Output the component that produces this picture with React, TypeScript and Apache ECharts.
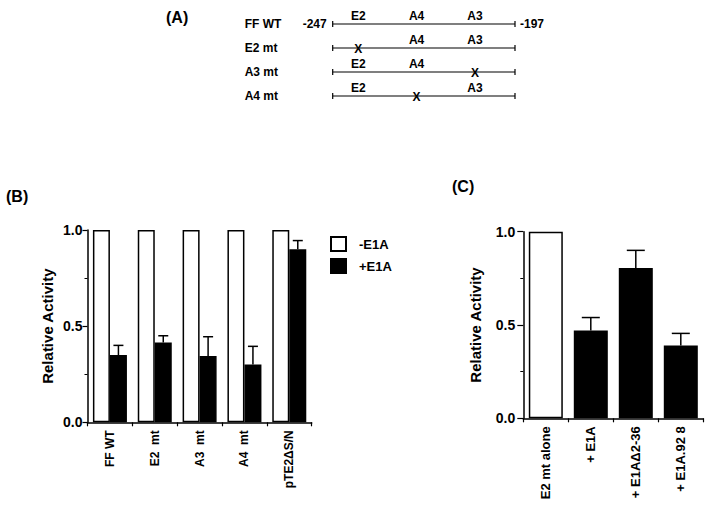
import React, { useEffect, useRef } from "react";
import * as echarts from "echarts";

// ---- Panel A (schematic) ----
const aRows = ["FF WT", "E2 mt", "A3 mt", "A4 mt"];
const aStart = -247;
const aEnd = -197;
const aSiteNames = ["E2", "A4", "A3"];
const aSitePos = [-240, -224, -208];
const aMutatedSite = [null, "E2", "A3", "A4"];

// ---- Panel B ----
const bCategories = ["FF WT", "E2  mt", "A3  mt", "A4  mt", "pTE2\u0394S/N"];
const bMinusE1A = [1, 1, 1, 1, 1];
const bPlusE1A = [0.35, 0.415, 0.345, 0.3, 0.9];
const bPlusE1AErrTop = [0.4, 0.45, 0.445, 0.395, 0.945];

// ---- Panel C ----
const cCategories = ["E2 mt alone", "+ E1A", "+ E1A\u03942-36", "+ E1A.92 8"];
const cValues = [1.0, 0.47, 0.805, 0.39];
const cErrTop = [null, 0.54, 0.9, 0.455];

const FONT = "Liberation Sans, Arial, Helvetica, sans-serif";

export default function App() {
  const ref = useRef<HTMLDivElement>(null);
  useEffect(() => {
    if (!ref.current) return;
    const chart = echarts.init(ref.current, null, { renderer: "svg" });

    const bold = (size: number) => ({
      fontFamily: FONT,
      fontWeight: "bold" as const,
      fontSize: size,
      color: "#000",
    });

    const valueAxis = (gridIndex: number, nameGap: number, labelMargin: number, tickLen: number) => ({
      type: "value" as const,
      gridIndex,
      min: 0,
      max: 1,
      interval: 0.5,
      name: "Relative Activity",
      nameLocation: "middle" as const,
      nameGap,
      nameTextStyle: bold(15),
      axisLine: { show: true, lineStyle: { color: "#000", width: 1.5 } },
      axisTick: { show: true, length: tickLen, lineStyle: { color: "#000", width: 1.2 } },
      minorTick: { show: true, splitNumber: 2, length: 3, lineStyle: { color: "#000", width: 1 } },
      splitLine: { show: false },
      axisLabel: {
        ...bold(14),
        margin: labelMargin,
        formatter: (v: number) => v.toFixed(1),
      },
    });

    const catAxis = (gridIndex: number, data: string[], fontSize: number) => ({
      type: "category" as const,
      gridIndex,
      data,
      axisLine: { show: true, lineStyle: { color: "#000", width: 1.5 } },
      axisTick: { show: true, length: 4, lineStyle: { color: "#000", width: 1.2 } },
      axisLabel: { ...bold(fontSize), rotate: 90, margin: 8 },
    });

    const errRender = (barOffset: number, cap: number) => (params: any, api: any) => {
      const top = api.value(2);
      if (top === null || top === undefined || isNaN(top)) return null;
      const base = api.coord([api.value(0), api.value(1)]);
      const tip = api.coord([api.value(0), top]);
      const x = base[0] + barOffset;
      const style = { stroke: "#000", lineWidth: 1.5 };
      return {
        type: "group",
        children: [
          { type: "line", shape: { x1: x, y1: base[1], x2: x, y2: tip[1] }, style },
          { type: "line", shape: { x1: x - cap / 2, y1: tip[1], x2: x + cap / 2, y2: tip[1] }, style },
        ],
      };
    };

    // Panel A text items: [x, row, text, kind]  kind 0 = site label above, 1 = mutation X, 2 = left end, 3 = right end
    const aTextData: any[] = [];
    aRows.forEach((_, r) => {
      aSiteNames.forEach((s, k) => {
        if (aMutatedSite[r] === s) aTextData.push([aSitePos[k], r, "X", 1]);
        else aTextData.push([aSitePos[k], r, s, 0]);
      });
    });
    aTextData.push([aStart, 0, String(aStart), 2]);
    aTextData.push([aEnd, 0, String(aEnd), 3]);

    const fontStr = "bold 12px " + FONT;

    const option: any = {
      animation: false,
      backgroundColor: "#fff",
      textStyle: { fontFamily: FONT },
      graphic: [
        { type: "text", left: 166, top: 9, style: { text: "(A)", ...bold(16), fill: "#000" } },
        { type: "text", left: 6, top: 188, style: { text: "(B)", ...bold(16), fill: "#000" } },
        { type: "text", left: 452, top: 178, style: { text: "(C)", ...bold(16), fill: "#000" } },
      ],
      legend: {
        left: 325,
        top: 231,
        orient: "vertical",
        itemWidth: 15,
        itemHeight: 14,
        itemGap: 6,
        icon: "rect",
        data: ["-E1A", "+E1A"],
        textStyle: { ...bold(13), padding: [0, 0, 0, 8] },
      },
      grid: [
        { left: 332.7, width: 182.3, top: 12, height: 96 },
        { left: 87.5, width: 224.2, top: 230, height: 192.3 },
        { left: 523.3, width: 180, top: 231.7, height: 186.6 },
      ],
      xAxis: [
        { type: "value", gridIndex: 0, min: aStart, max: aEnd, show: false },
        catAxis(1, bCategories, 12),
        catAxis(2, cCategories, 13),
      ],
      yAxis: [
        {
          type: "category",
          gridIndex: 0,
          data: aRows,
          inverse: true,
          axisLine: { show: false },
          axisTick: { show: false },
          axisLabel: { ...bold(12), align: "left", margin: 88 },
        },
        valueAxis(1, 33, 5, 5),
        valueAxis(2, 40, 8, 6),
      ],
      series: [
        // Panel A lines
        {
          type: "custom",
          xAxisIndex: 0,
          yAxisIndex: 0,
          data: aRows.map((_, i) => [aStart, aEnd, i]),
          silent: true,
          renderItem: (params: any, api: any) => {
            const p1 = api.coord([api.value(0), api.value(2)]);
            const p2 = api.coord([api.value(1), api.value(2)]);
            const style = { stroke: "#000", lineWidth: 1.2 };
            return {
              type: "group",
              children: [
                { type: "line", shape: { x1: p1[0], y1: p1[1], x2: p2[0], y2: p2[1] }, style },
                { type: "line", shape: { x1: p1[0], y1: p1[1] - 3, x2: p1[0], y2: p1[1] + 3 }, style },
                { type: "line", shape: { x1: p2[0], y1: p2[1] - 3, x2: p2[0], y2: p2[1] + 3 }, style },
              ],
            };
          },
        },
        // Panel A texts
        {
          type: "custom",
          xAxisIndex: 0,
          yAxisIndex: 0,
          silent: true,
          z: 6,
          data: aTextData,
          dimensions: ["x", "row", "text", "kind"],
          encode: { x: 0, y: 1 },
          renderItem: (params: any, api: any) => {
            const d = aTextData[params.dataIndex];
            const p = api.coord([d[0], d[1]]);
            const kind = d[3];
            let x = p[0];
            let y = p[1];
            let align = "center";
            let valign = "middle";
            if (kind === 0) {
              y = p[1] - 2;
              valign = "bottom";
            } else if (kind === 1) {
              y = p[1] + 1;
            } else if (kind === 2) {
              x = p[0] - 6;
              align = "right";
            } else {
              x = p[0] + 5;
              align = "left";
            }
            return {
              type: "text",
              style: {
                text: d[2],
                x,
                y,
                align,
                verticalAlign: valign,
                font: fontStr,
                fill: "#000",
              },
            };
          },
        },
        // Panel B
        {
          name: "-E1A",
          type: "bar",
          xAxisIndex: 1,
          yAxisIndex: 1,
          data: bMinusE1A,
          barWidth: 17,
          barGap: "0%",
          itemStyle: { color: "#fff", borderColor: "#000", borderWidth: 1.5 },
        },
        {
          name: "+E1A",
          type: "bar",
          xAxisIndex: 1,
          yAxisIndex: 1,
          data: bPlusE1A,
          barWidth: 17,
          barGap: "0%",
          itemStyle: { color: "#000", borderColor: "#000", borderWidth: 1.5 },
        },
        {
          type: "custom",
          xAxisIndex: 1,
          yAxisIndex: 1,
          z: 5,
          data: bPlusE1A.map((v, i) => [i, v, bPlusE1AErrTop[i]]),
          renderItem: errRender(8.5, 10),
        },
        // Panel C
        {
          name: "C",
          type: "bar",
          xAxisIndex: 2,
          yAxisIndex: 2,
          barWidth: 34,
          data: cValues.map((v, i) => ({
            value: v,
            itemStyle:
              i === 0
                ? { color: "#fff", borderColor: "#000", borderWidth: 1.5 }
                : { color: "#000", borderColor: "#000", borderWidth: 1.5 },
          })),
        },
        {
          type: "custom",
          xAxisIndex: 2,
          yAxisIndex: 2,
          z: 5,
          data: cValues.map((v, i) => [i, v, cErrTop[i] === null ? NaN : cErrTop[i]]),
          renderItem: errRender(0, 18),
        },
      ],
    };

    chart.setOption(option);
    return () => chart.dispose();
  }, []);

  return (
    <div
      ref={ref}
      style={{ position: "fixed", left: 0, top: 0, width: 710, height: 507, background: "#fff" }}
    />
  );
}
